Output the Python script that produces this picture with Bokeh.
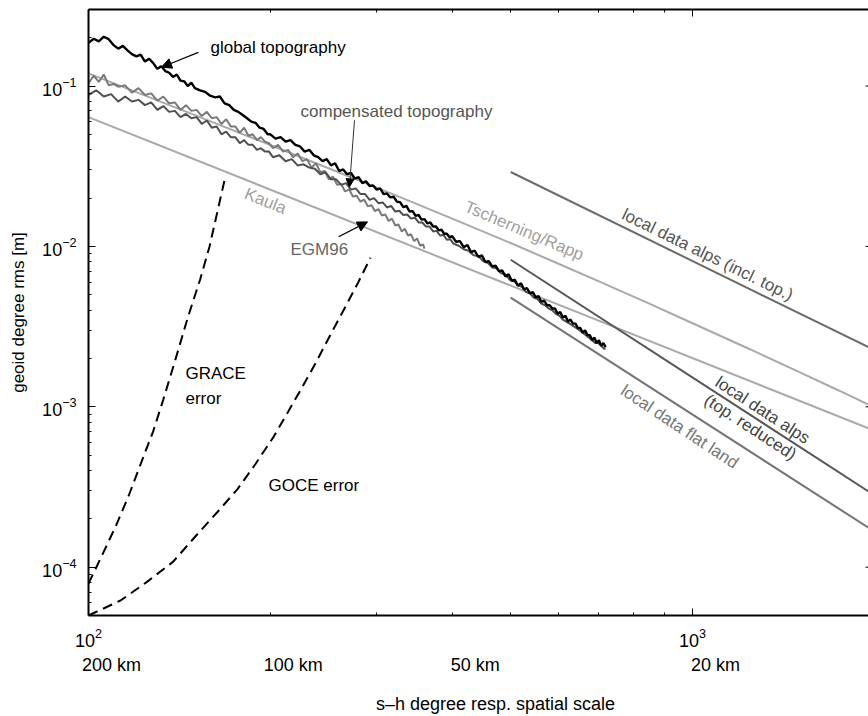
from bokeh.plotting import figure
from bokeh.models import FixedTicker, LogAxis, LogTickFormatter, Arrow, NormalHead, Range1d
from bokeh.core.properties import value
from bokeh.embed import file_html
from bokeh.resources import INLINE

FONT = "Liberation Sans"

# ---------------- data ----------------
topo_deg = [100, 102, 104, 106, 108, 110, 112, 114, 116, 118, 120, 122, 124, 126, 128, 130, 132, 134, 136, 138,
            140, 142, 144, 146, 148, 150, 153, 156, 159, 162, 165, 168, 171, 174, 177, 180, 183, 186, 189, 192,
            195, 198, 200, 204, 208, 212, 216, 220, 224, 228, 232, 236, 240, 244, 248, 252, 256, 260, 264, 268,
            272, 276, 280, 284, 288, 292, 296, 300, 304, 308, 312, 316, 320, 324, 328, 332, 336, 340, 344, 348,
            352, 356, 360, 364, 368, 372, 376, 380, 384, 388, 392, 396, 400, 406, 412, 418, 424, 430, 436, 442,
            448, 454, 460, 466, 472, 478, 484, 490, 496, 502, 508, 514, 520, 526, 532, 538, 544, 550, 556, 562,
            568, 574, 580, 586, 592, 598, 604, 610, 616, 622, 628, 634, 640, 646, 652, 658, 664, 670, 676, 682,
            688, 694, 700, 706, 712, 718]
topo_rms = [0.186, 0.197, 0.190, 0.203, 0.196, 0.180, 0.171, 0.178, 0.167, 0.158, 0.153, 0.157, 0.142, 0.148, 0.139,
            0.128, 0.133, 0.124, 0.121, 0.114, 0.118, 0.108, 0.107, 0.100, 0.105, 0.097, 0.094, 0.092, 0.087, 0.085,
            0.086, 0.078, 0.076, 0.071, 0.069, 0.066, 0.063, 0.060, 0.059, 0.055, 0.054, 0.050, 0.050, 0.047, 0.048,
            0.045, 0.046, 0.043, 0.042, 0.039, 0.040, 0.037, 0.036, 0.034, 0.035, 0.032, 0.033, 0.0295, 0.0302, 0.0282,
            0.0287, 0.0265, 0.0270, 0.0248, 0.0255, 0.0238, 0.0240, 0.0226, 0.0230, 0.0212, 0.0214, 0.0202, 0.0204,
            0.0190, 0.0189, 0.0176, 0.0179, 0.0165, 0.0166, 0.0155, 0.0157, 0.0147, 0.0148, 0.0139, 0.0141, 0.0133,
            0.0133, 0.0126, 0.0127, 0.0120, 0.0120, 0.0114, 0.0116, 0.0107, 0.0108, 0.0099, 0.0102, 0.0092, 0.0094,
            0.0086, 0.0088, 0.0080, 0.0081, 0.0075, 0.0076, 0.0070, 0.0071, 0.0065, 0.0067, 0.0061, 0.0062, 0.0057,
            0.0059, 0.0054, 0.0055, 0.0051, 0.0052, 0.0048, 0.0049, 0.0045, 0.0046, 0.0043, 0.0043, 0.0041, 0.0041,
            0.0038, 0.0039, 0.0036, 0.0037, 0.0034, 0.0035, 0.0033, 0.0033, 0.0031, 0.0031, 0.0029, 0.0030, 0.0028,
            0.0028, 0.0026, 0.0027, 0.0025, 0.0026, 0.0024, 0.0025, 0.00235]

comp_deg = [100, 103, 106, 109, 112, 115, 118, 121, 124, 127, 130, 133, 136, 139, 142, 145, 148, 151, 154, 157,
            160, 163, 166, 169, 172, 175, 178, 181, 184, 187, 190, 193, 196, 199, 202, 207, 212, 217, 222, 227,
            232, 237, 242, 247, 252, 257, 262, 267, 272, 277, 282, 287, 292, 297, 302, 307, 312, 317, 322, 327,
            332, 337, 342, 347, 352, 357, 362, 367, 372, 377, 382, 387, 392, 397, 402, 410, 418, 426, 434, 442,
            450, 458, 466, 474, 482, 490, 498, 506, 514, 522, 530, 538, 546, 554, 562, 570, 578, 586, 594, 602,
            610, 618, 626, 634, 642, 650, 658, 666, 674, 682, 690, 698, 706, 714, 718]
comp_rms = [0.088, 0.094, 0.086, 0.089, 0.080, 0.086, 0.080, 0.082, 0.076, 0.079, 0.071, 0.075, 0.069, 0.070, 0.064,
            0.067, 0.063, 0.064, 0.058, 0.061, 0.055, 0.056, 0.050, 0.052, 0.048, 0.048, 0.044, 0.046, 0.043, 0.043,
            0.040, 0.041, 0.039, 0.039, 0.036, 0.037, 0.034, 0.035, 0.032, 0.0325, 0.031, 0.0305, 0.0282, 0.0290,
            0.0262, 0.0262, 0.0242, 0.0248, 0.0226, 0.0230, 0.0212, 0.0212, 0.0195, 0.0200, 0.0186, 0.0188, 0.0175,
            0.0179, 0.0165, 0.0167, 0.0157, 0.0158, 0.0149, 0.0151, 0.0141, 0.0141, 0.0133, 0.0133, 0.0124, 0.0125,
            0.0117, 0.0118, 0.0110, 0.0111, 0.0104, 0.0101, 0.0096, 0.0094, 0.0088, 0.0087, 0.0081, 0.0079, 0.0074,
            0.0073, 0.0068, 0.0067, 0.0062, 0.0061, 0.0057, 0.0056, 0.0052, 0.0051, 0.0048, 0.0047, 0.0044, 0.0043,
            0.0041, 0.0040, 0.0038, 0.0037, 0.0035, 0.0034, 0.0033, 0.0032, 0.0031, 0.0030, 0.0029, 0.0028, 0.0027,
            0.0026, 0.0025, 0.0025, 0.0024, 0.0023, 0.0023]

egm_deg = [100, 102, 104, 106, 108, 110, 112, 115, 118, 121, 124, 127, 130, 133, 136, 139, 142, 145, 148, 151,
           154, 157, 160, 163, 166, 169, 172, 175, 178, 181, 184, 187, 190, 193, 196, 199, 202, 206, 210, 214,
           218, 222, 226, 230, 234, 238, 242, 246, 250, 254, 258, 262, 266, 270, 274, 278, 282, 286, 290, 294,
           298, 302, 306, 310, 314, 318, 322, 326, 330, 334, 338, 342, 346, 350, 354, 358, 360]
egm_rms = [0.104, 0.116, 0.106, 0.118, 0.101, 0.103, 0.099, 0.101, 0.091, 0.097, 0.088, 0.090, 0.081, 0.086, 0.078,
           0.079, 0.071, 0.076, 0.070, 0.071, 0.065, 0.069, 0.063, 0.064, 0.058, 0.062, 0.056, 0.056, 0.051, 0.055,
           0.049, 0.050, 0.046, 0.048, 0.045, 0.044, 0.041, 0.043, 0.039, 0.040, 0.036, 0.038, 0.034, 0.035, 0.031,
           0.033, 0.0290, 0.0295, 0.0262, 0.0272, 0.0242, 0.0245, 0.0220, 0.0227, 0.0205, 0.0207, 0.0190, 0.0196,
           0.0178, 0.0181, 0.0166, 0.0171, 0.0156, 0.0158, 0.0144, 0.0149, 0.0135, 0.0137, 0.0124, 0.0129, 0.0117,
           0.0119, 0.0108, 0.0112, 0.0101, 0.0103, 0.0097]

kaula_deg = [100, 2000]
kaula_rms = [0.064, 0.00071]

tr_deg = [100, 150, 200, 260, 328, 400, 500, 600, 700, 850, 1000, 1250, 1500, 1750, 2000]
tr_rms = [0.120, 0.0659, 0.0429, 0.0289, 0.0203, 0.0149, 0.0105, 0.0078, 0.00605, 0.00438, 0.00332,
          0.00227, 0.00165, 0.00126, 0.00099]

alps_incl_deg = [500, 2000]
alps_incl_rms = [0.0291, 0.00226]
alps_red_deg = [500, 2000]
alps_red_rms = [0.00826, 0.000281]
flat_deg = [500, 2000]
flat_rms = [0.0048, 0.000167]

grace_deg = [100, 106, 111, 116.5, 122, 128, 133, 139, 146, 153, 158.6, 163, 168]
grace_rms = [7.9e-5, 1.25e-4, 1.81e-4, 2.78e-4, 4.4e-4, 7.05e-4, 1.11e-3, 1.92e-3, 3.6e-3, 6.2e-3, 9.96e-3,
             1.57e-2, 2.6e-2]

goce_deg = [100, 113, 125, 138, 149, 163.5, 176.5, 189, 202.5, 214.3, 224.4, 237.6, 251.6, 266.4, 280, 293]
goce_rms = [5.0e-5, 6.2e-5, 8.1e-5, 1.08e-4, 1.5e-4, 2.21e-4, 3.07e-4, 4.4e-4, 6.5e-4, 9.4e-4, 1.27e-3,
            1.87e-3, 2.82e-3, 4.22e-3, 6.03e-3, 8.5e-3]

x_major = [100, 1000]
x_minor = [200, 300, 400, 500, 600, 700, 800, 900]
y_major = [1e-4, 1e-3, 1e-2, 1e-1]
y_minor = [6e-5, 7e-5, 8e-5, 9e-5,
           2e-4, 3e-4, 4e-4, 5e-4, 6e-4, 7e-4, 8e-4, 9e-4,
           2e-3, 3e-3, 4e-3, 5e-3, 6e-3, 7e-3, 8e-3, 9e-3,
           2e-2, 3e-2, 4e-2, 5e-2, 6e-2, 7e-2, 8e-2, 9e-2, 2e-1]
km_deg = [100, 200, 400, 1000]
km_labels = ["200 km", "100 km", "50 km", "20 km"]
x_title = "s\u2013h degree resp. spatial scale"
y_title = "geoid degree rms [m]"

X_END = 1956
Y_RANGE = (5e-5, 0.3)

# layout helpers: the km labels sit ~23 px right of their degree, the title is centred at ~495 px
PX_PER_DECADE = 604.0
KM_SHIFT = 10 ** (23 / PX_PER_DECADE)
km_pos = [d * KM_SHIFT for d in km_deg]
title_pos = 100 * 10 ** ((495 - 88) / PX_PER_DECADE)

# ---------------- figure ----------------
p = figure(width=868, height=716, x_axis_type="log", y_axis_type="log",
           x_range=Range1d(100, X_END), y_range=Range1d(*Y_RANGE),
           output_backend="svg", toolbar_location=None,
           min_border_left=88, min_border_right=0, min_border_top=9, min_border_bottom=99)
p.outline_line_color = None
p.grid.visible = False
p.background_fill_color = "white"


def style_axis(ax, label_size="18px"):
    ax.axis_line_width = 2
    ax.axis_line_color = "black"
    ax.major_tick_in = 7
    ax.major_tick_out = 0
    ax.minor_tick_in = 3
    ax.minor_tick_out = 0
    ax.major_tick_line_color = "black"
    ax.minor_tick_line_color = "black"
    ax.major_tick_line_width = 1
    ax.minor_tick_line_width = 1
    ax.major_label_text_font = FONT
    ax.major_label_text_font_size = label_size
    ax.major_label_text_color = "black"


def text_axis(ticks, labels, standoff):
    ax = LogAxis(ticker=FixedTicker(ticks=ticks), major_label_overrides=dict(zip(ticks, labels)))
    ax.axis_line_color = None
    ax.major_tick_line_color = None
    ax.minor_tick_line_color = None
    ax.major_tick_in = 0
    ax.major_tick_out = 0
    ax.major_label_text_font = FONT
    ax.major_label_text_font_size = "18px"
    ax.major_label_text_color = "black"
    ax.major_label_standoff = standoff
    p.add_layout(ax, "below")
    return ax


xa = p.xaxis[0]
xa.ticker = FixedTicker(ticks=x_major, minor_ticks=x_minor)
xa.formatter = LogTickFormatter()
style_axis(xa)
xa.major_label_standoff = 12

ya = p.yaxis[0]
ya.ticker = FixedTicker(ticks=y_major, minor_ticks=y_minor)
ya.formatter = LogTickFormatter()
style_axis(ya)
ya.major_label_standoff = 12
ya.axis_label = y_title
ya.axis_label_text_font = FONT
ya.axis_label_text_font_size = "17px"
ya.axis_label_text_font_style = "normal"
ya.axis_label_text_color = "black"
ya.axis_label_standoff = 11

top = LogAxis(ticker=FixedTicker(ticks=x_major, minor_ticks=x_minor))
style_axis(top, "1px")
top.major_label_text_color = None
top.major_label_standoff = 0
p.add_layout(top, "above")

text_axis(km_pos, km_labels, 5)
text_axis([title_pos], [x_title], 16)

# right-hand ticks (axis edge is cropped in the reference)
p.scatter([X_END] * len(y_major), y_major, marker="dash", size=6, line_color="black", line_width=1)

# ---------------- series ----------------
LIGHT = "#a9a9a9"
p.line(kaula_deg, kaula_rms, line_color=LIGHT, line_width=2)
p.line(tr_deg, tr_rms, line_color=LIGHT, line_width=2)
p.line(alps_incl_deg, alps_incl_rms, line_color="#6b6b6b", line_width=2)
p.line(alps_red_deg, alps_red_rms, line_color="#575757", line_width=2)
p.line(flat_deg, flat_rms, line_color="#747474", line_width=2)
p.line(egm_deg, egm_rms, line_color="#7a7a7a", line_width=2)
p.line(comp_deg, comp_rms, line_color="#4f4f4f", line_width=2)
p.line(topo_deg, topo_rms, line_color="black", line_width=2.4)
p.line(grace_deg, grace_rms, line_color="black", line_width=2, line_dash="10 6")
p.line(goce_deg, goce_rms, line_color="black", line_width=2, line_dash="10 6")

# ---------------- annotations ----------------
def txt(x, y, s, color="black", angle=0.0, align="left"):
    p.text(x=[x], y=[y], text=[s], angle=angle, text_font=value(FONT), text_font_size="17px",
           text_color=color, text_align=align, text_baseline="middle")


txt(159.2, 0.174, "global topography")
txt(224.4, 0.0697, "compensated topography", color="#555555")
txt(216, 0.00953, "EGM96", color="#666666")
txt(196.3, 0.0192, "Kaula", color="#a0a0a0", angle=-0.38, align="center")
txt(526.4, 0.01252, "Tscherning/Rapp", color="#a0a0a0", angle=-0.40, align="center")
txt(1059, 0.00888, "local data alps (incl. top.)", color="#555555", angle=-0.455, align="center")
txt(1306, 9.52e-4, "local data alps", color="#444444", angle=-0.576, align="center")
txt(1247, 7.46e-4, "(top. reduced)", color="#444444", angle=-0.576, align="center")
txt(951.7, 7.51e-4, "local data flat land", color="#777777", angle=-0.586, align="center")
txt(144.7, 1.616e-3, "GRACE")
txt(144.7, 1.13e-3, "error")
txt(198.6, 3.21e-4, "GOCE error")

p.add_layout(Arrow(end=NormalHead(size=10, fill_color="black", line_color="black"),
                   x_start=152.0, y_start=0.162, x_end=132.1, y_end=0.131,
                   line_color="black", line_width=1.2))
p.add_layout(Arrow(end=NormalHead(size=8, fill_color="black", line_color="black"),
                   x_start=275.7, y_start=0.0612, x_end=270.4, y_end=0.0235,
                   line_color="#333333", line_width=1))
p.add_layout(Arrow(end=NormalHead(size=10, fill_color="black", line_color="black"),
                   x_start=259.5, y_start=0.01148, x_end=289.7, y_end=0.01422,
                   line_color="black", line_width=1.2))

open("out.html", "w").write(file_html(p, INLINE))
